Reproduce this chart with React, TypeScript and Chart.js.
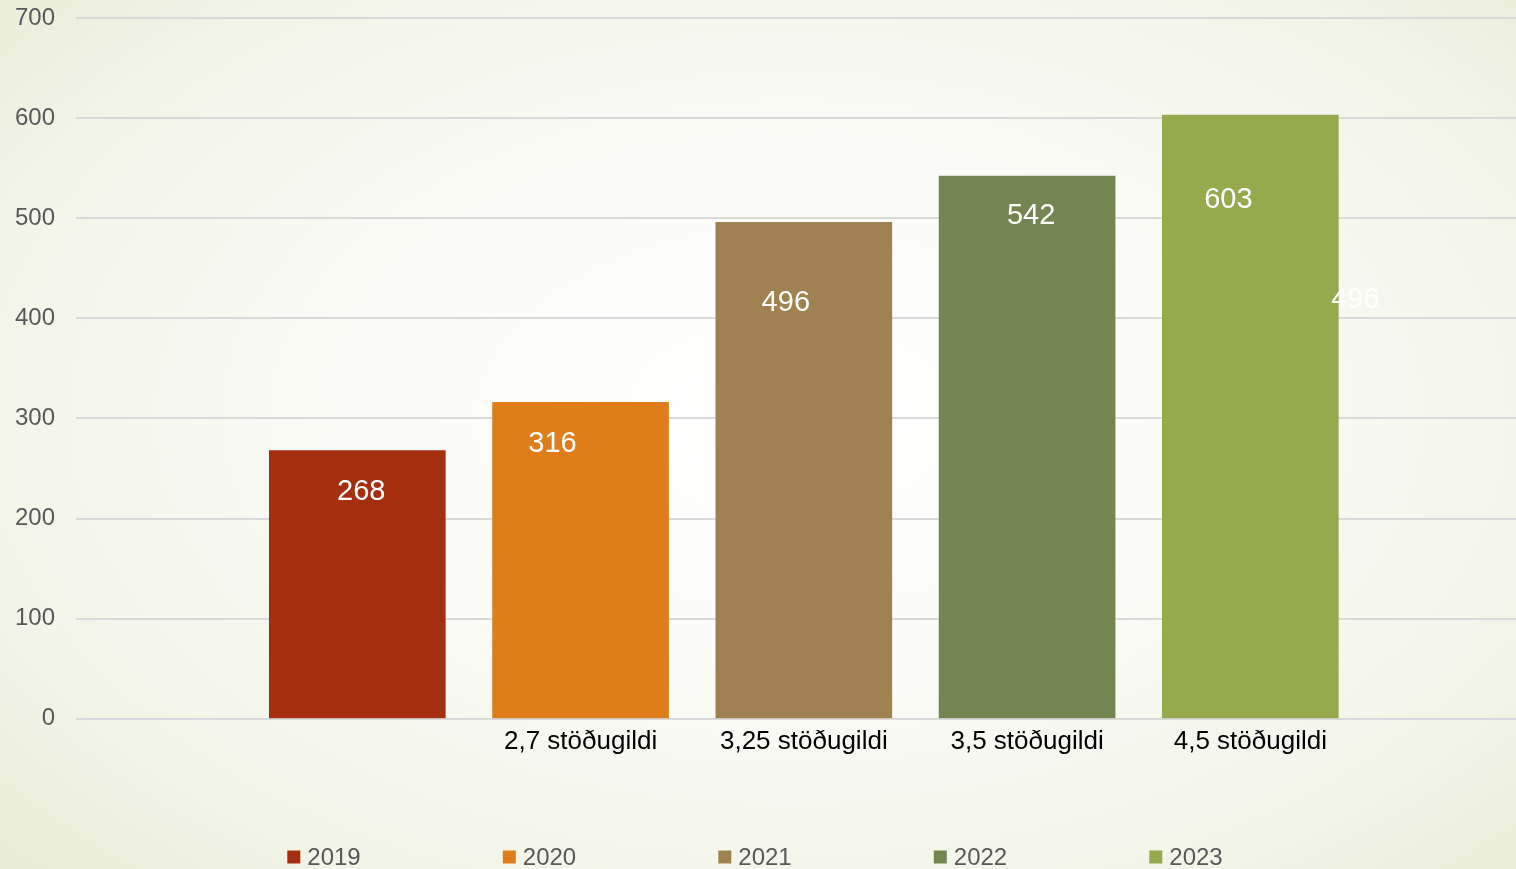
import React, { useEffect, useRef } from "react";
import { Chart, registerables } from "chart.js";

Chart.register(...registerables);

// ---- data ----
const years = ["2019", "2020", "2021", "2022", "2023"];
const values = [268, 316, 496, 542, 603];
const xLabels = ["", "2,7 stöðugildi", "3,25 stöðugildi", "3,5 stöðugildi", "4,5 stöðugildi"];
const colors = ["#A52E10", "#DE7D1A", "#9F8250", "#738651", "#94AA4C"];
const yTicks = [0, 100, 200, 300, 400, 500, 600, 700];

// ---- style constants (label placement relative to each bar's top centre) ----
const labelOffsets: [number, number][] = [
  [4, 42],
  [-28, 42],
  [-18, 81],
  [4, 40],
  [-22, 85],
];
// stray duplicated label visible at right of the last bar
const strayLabel = { source: 2, bar: 4, dx: 105, dy: 185 };

const FONT = "'Liberation Sans', Arial, Helvetica, sans-serif";

const valueLabelPlugin = {
  id: "valueLabels",
  afterDatasetsDraw(chart: any) {
    const ctx = chart.ctx;
    ctx.save();
    ctx.font = `29px ${FONT}`;
    ctx.fillStyle = "#ffffff";
    ctx.textAlign = "center";
    ctx.textBaseline = "middle";
    values.forEach((v, i) => {
      const el = chart.getDatasetMeta(i).data[0];
      if (!el) return;
      const [dx, dy] = labelOffsets[i];
      ctx.fillText(String(v), el.x + dx, el.y + dy);
    });
    const el = chart.getDatasetMeta(strayLabel.bar).data[0];
    if (el) {
      ctx.fillText(String(values[strayLabel.source]), el.x + strayLabel.dx, el.y + strayLabel.dy);
    }
    ctx.restore();
  },
};

const legendPlugin = {
  id: "customLegend",
  afterDraw(chart: any) {
    const ctx = chart.ctx;
    const step = 215.5;
    const box = 13;
    const gap = 7;
    const yMid = 857;
    const shift = -3;
    ctx.save();
    ctx.font = `24px ${FONT}`;
    const lastW = box + gap + ctx.measureText(years[years.length - 1]).width;
    const total = step * (years.length - 1) + lastW;
    let x = (chart.width - total) / 2 + shift;
    ctx.textBaseline = "middle";
    ctx.textAlign = "left";
    years.forEach((y, i) => {
      ctx.fillStyle = colors[i];
      ctx.fillRect(x, yMid - box / 2, box, box);
      ctx.fillStyle = "#595959";
      ctx.fillText(y, x + box + gap, yMid + 1);
      x += step;
    });
    ctx.restore();
  },
};

export default function App() {
  const canvasRef = useRef<HTMLCanvasElement | null>(null);

  useEffect(() => {
    document.body.style.margin = "0";
    const canvas = canvasRef.current;
    if (!canvas) return;
    const chart = new Chart(canvas, {
      type: "bar",
      data: {
        datasets: years.map((y, i) => ({
          label: y,
          data: [{ x: i + 1, y: values[i] }],
          backgroundColor: colors[i],
          barThickness: 176,
          grouped: false,
        })),
      },
      options: {
        animation: false,
        responsive: true,
        maintainAspectRatio: false,
        layout: { padding: { top: 18, bottom: 105, left: 0, right: 0 } },
        plugins: {
          legend: { display: false },
          tooltip: { enabled: false },
          title: { display: false },
        },
        scales: {
          x: {
            type: "linear",
            min: -0.26,
            max: 6.19,
            offset: false,
            grid: { display: false, drawTicks: false },
            border: { display: false },
            afterBuildTicks: (scale: any) => {
              scale.ticks = xLabels.map((_, i) => ({ value: i + 1 }));
            },
            afterFit: (scale: any) => {
              scale.paddingLeft = 0;
              scale.paddingRight = 0;
            },
            ticks: {
              autoSkip: false,
              maxRotation: 0,
              padding: 7,
              color: "#000000",
              font: { family: FONT, size: 26 },
              callback: (v: any) => {
                const idx = Math.round(Number(v)) - 1;
                return xLabels[idx] ?? "";
              },
            },
          },
          y: {
            min: 0,
            max: 700,
            afterBuildTicks: (scale: any) => {
              scale.ticks = yTicks.map((v) => ({ value: v }));
            },
            afterFit: (scale: any) => {
              scale.width = 76;
              scale.paddingTop = 0;
              scale.paddingBottom = 0;
            },
            grid: { color: "#d9d9d9", lineWidth: 2, drawTicks: false },
            border: { display: false },
            ticks: {
              padding: 21,
              color: "#595959",
              font: { family: FONT, size: 24 },
            },
          },
        },
      },
      plugins: [valueLabelPlugin, legendPlugin],
    } as any);
    return () => chart.destroy();
  }, []);

  return (
    <div
      style={{
        position: "fixed",
        left: 0,
        top: 0,
        width: 1516,
        height: 869,
        background:
          "radial-gradient(ellipse 75% 80% at 52% 48%, #ffffff 0%, #fbfcf8 35%, #f1f4e6 75%, #e6ebd2 100%)",
      }}
    >
      <canvas ref={canvasRef} />
    </div>
  );
}
